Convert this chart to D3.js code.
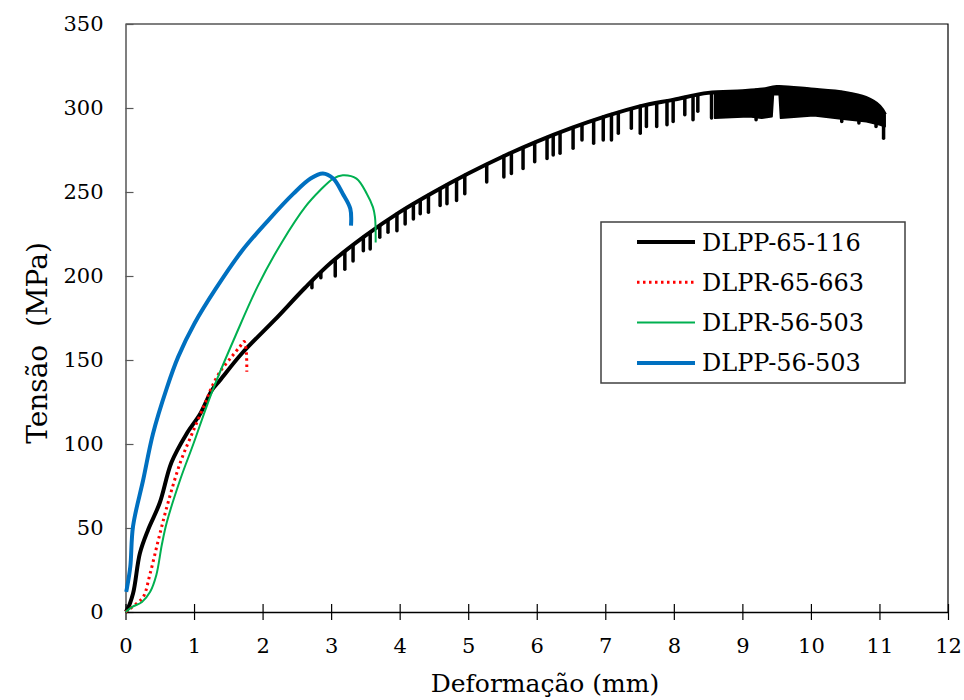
<!DOCTYPE html>
<html>
<head>
<meta charset="utf-8">
<script src="https://cdn.jsdelivr.net/npm/d3@7"></script>
<style>
  body { margin: 0; background: #fff; }
  svg text { font-family: "DejaVu Serif", serif; fill: #000; }
</style>
</head>
<body>
<script>
// values: [deformação mm, tensão MPa]
const dlpp65 = [[0,0],[0.02,1],[0.11,11],[0.21,35],[0.33,49],[0.5,65],[0.67,89],[0.89,106],[1.09,118],
  [1.26,132],[1.38,138],[1.7,154],[2.18,174],[2.62,193],[3.0,208],[3.5,224],[4.0,238],[4.5,250],
  [5.0,261],[5.5,271],[6.0,280],[6.5,288],[7.0,295],[7.5,301],[8.0,305],[8.5,309],[9.0,310],
  [9.3,311],[9.5,312.5],[10.0,311],[10.5,309],[10.8,306],[11.0,301],[11.08,296]];
// downward drops on the DLPP-65-116 curve: [x, lowest stress]
const dlpp65Drops = [[2.72,193],[2.85,199],[3.06,200],[3.2,204],[3.32,209],[3.47,215],[3.57,216],[3.71,223],[3.83,226],
  [3.96,227],[4.08,231],[4.2,234],[4.3,237],[4.42,238],[4.59,242],[4.69,243],[4.83,245],[4.95,249],
  [5.27,256],[5.52,259],[5.63,261],[5.8,264],[5.97,268],[6.15,270],[6.24,272],[6.34,273],[6.53,276],
  [6.66,281],[6.83,279],[6.97,281],[7.09,281],[7.19,285],[7.38,288],[7.51,285],[7.6,289],[7.75,289],
  [7.9,290],[7.99,292],[8.16,296],[8.28,293],[8.35,298],[8.55,294],[9.2,293],[10.45,292],[10.7,291],
  [10.95,289],[11.06,282]];
// dense oscillation band at the end: [x, top, bottom]
const dlpp65Band = [[8.6,309.5,294],[8.84,309.7,294.5],[9.1,310,295],[9.28,311.2,294],
  [9.43,311.7,295],[9.45,312,308],[9.54,312.6,308],[9.56,312.6,294],[10.04,310.7,295.5],
  [10.47,309.2,293.5],[10.81,305.5,292],[11.01,300.5,290],[11.08,296,289]];
const dlpr65 = [[0,0],[0.16,5],[0.26,9],[0.36,23],[0.48,43],[0.62,65],[0.8,89],[0.99,108],[1.18,126],
  [1.26,134],[1.38,143],[1.55,152],[1.67,158],[1.73,161],[1.76,156],[1.77,143]];
const dlpr56 = [[0,0],[0.1,3],[0.24,6],[0.36,12],[0.45,22],[0.53,40],[0.6,53],[0.8,79],[0.99,100],
  [1.18,122],[1.33,138],[1.6,164],[1.93,194],[2.28,220],[2.62,241],[2.84,251],[3.03,258],[3.17,260],
  [3.37,258],[3.52,249],[3.61,241],[3.64,235],[3.65,220]];
const dlpp56 = [[0.01,12],[0.02,14],[0.07,27],[0.11,51],[0.26,79],[0.4,106],[0.6,133],[0.77,152],
  [1.01,172],[1.31,192],[1.7,215],[2.08,233],[2.45,249],[2.7,258],[2.88,261],[3.03,258],
  [3.17,249],[3.28,240],[3.29,230]];

const seriesNames = ["DLPP-65-116", "DLPR-65-663", "DLPR-56-503", "DLPP-56-503"];
const xTicks = d3.range(0, 13, 1);
const yTicks = d3.range(0, 351, 50);

const width = 964, height = 700;
const serif = '"DejaVu Serif", serif';
const svg = d3.select("body").append("svg").attr("width", width).attr("height", height);

const x = d3.scaleLinear().domain([0, 12]).range([125.5, 948]);
const y = d3.scaleLinear().domain([0, 350]).range([612, 24]);

// frame top and right
svg.append("path")
  .attr("d", `M${x(0)},${y(350)}H${x(12)}V${y(0)}`)
  .attr("fill", "none").attr("stroke", "#000").attr("stroke-width", 1.2);

const yAxis = svg.append("g")
  .attr("transform", `translate(${x(0)},0)`)
  .call(d3.axisLeft(y).tickValues(yTicks).tickSize(-8).tickSizeOuter(0).tickPadding(22));
yAxis.attr("font-family", serif);
yAxis.select(".domain").attr("stroke", "#7f7f7f").attr("stroke-width", 2);
yAxis.selectAll(".tick line").attr("stroke", "#595959").attr("stroke-width", 1.2);
yAxis.selectAll(".tick text").style("font-size", "21px").style("font-family", serif).attr("fill", "#000");

const xAxis = svg.append("g")
  .attr("transform", `translate(0,${y(0)})`)
  .call(d3.axisBottom(x).tickValues(xTicks).tickSize(8).tickSizeOuter(0).tickPadding(18));
xAxis.attr("font-family", serif);
xAxis.select(".domain").attr("stroke", "#000").attr("stroke-width", 1.5);
xAxis.selectAll(".tick line").attr("y1", -8).attr("y2", 8).attr("stroke", "#000").attr("stroke-width", 1.2);
xAxis.selectAll(".tick text").style("font-size", "21px").style("font-family", serif).attr("fill", "#000");

const line = d3.line().x(d => x(d[0])).y(d => y(d[1])).curve(d3.curveCatmullRom.alpha(0.5));

// curve value at a given x, for the drop lines
const bis = d3.bisector(d => d[0]).left;
function stressAt(data, xv) {
  const i = Math.max(1, Math.min(data.length - 1, bis(data, xv)));
  const a = data[i - 1], b = data[i];
  const t = (xv - a[0]) / (b[0] - a[0]);
  return a[1] + t * (b[1] - a[1]);
}

// DLPP-65-116
svg.append("path")
  .datum(dlpp65Band)
  .attr("d", d3.area().x(d => x(d[0])).y0(d => y(d[2])).y1(d => y(d[1])))
  .attr("fill", "#000").attr("stroke", "#000").attr("stroke-width", 2).attr("stroke-linejoin", "round");
svg.append("g").selectAll("line")
  .data(dlpp65Drops)
  .join("line")
  .attr("x1", d => x(d[0])).attr("x2", d => x(d[0]))
  .attr("y1", d => y(stressAt(dlpp65, d[0]))).attr("y2", d => y(d[1]))
  .attr("stroke", "#000").attr("stroke-width", 3.5).attr("stroke-linecap", "round");
svg.append("path")
  .datum(dlpp65)
  .attr("d", line)
  .attr("fill", "none").attr("stroke", "#000").attr("stroke-width", 4).attr("stroke-linejoin", "round");

// DLPR-65-663
svg.append("path")
  .datum(dlpr65)
  .attr("d", line)
  .attr("fill", "none").attr("stroke", "#ff0000").attr("stroke-width", 3).attr("stroke-dasharray", "2.5 3.5");

// DLPR-56-503
svg.append("path")
  .datum(dlpr56)
  .attr("d", line)
  .attr("fill", "none").attr("stroke", "#00b050").attr("stroke-width", 2).attr("stroke-linejoin", "round");

// DLPP-56-503
svg.append("path")
  .datum(dlpp56)
  .attr("d", line)
  .attr("fill", "none").attr("stroke", "#0070c0").attr("stroke-width", 4).attr("stroke-linejoin", "round");

// legend
const legend = svg.append("g").attr("transform", "translate(601,222)");
legend.append("rect")
  .attr("width", 304).attr("height", 161)
  .attr("fill", "#fff").attr("stroke", "#404040").attr("stroke-width", 1.5);
const styles = [
  {stroke: "#000", w: 4, dash: null},
  {stroke: "#ff0000", w: 3, dash: "2.5 3.5"},
  {stroke: "#00b050", w: 2, dash: null},
  {stroke: "#0070c0", w: 4, dash: null}
];
const item = legend.selectAll("g.item")
  .data(seriesNames)
  .join("g")
  .attr("class", "item")
  .attr("transform", (d, i) => `translate(0,${20 + i * 40.3})`);
item.append("line")
  .attr("x1", 36).attr("x2", 94)
  .attr("stroke", (d, i) => styles[i].stroke)
  .attr("stroke-width", (d, i) => styles[i].w)
  .attr("stroke-dasharray", (d, i) => styles[i].dash);
item.append("text")
  .attr("x", 101).attr("y", 8.5)
  .style("font-size", "24px").style("font-family", serif)
  .text(d => d);

// axis titles
svg.append("text")
  .attr("x", 545).attr("y", 692)
  .attr("text-anchor", "middle")
  .style("font-size", "25px").style("font-family", serif)
  .text("Deformação (mm)");
svg.append("text")
  .attr("transform", "translate(47,343) rotate(-90)")
  .attr("text-anchor", "middle")
  .style("font-size", "28px").style("font-family", serif)
  .text("Tensão\u00a0 (MPa)");
</script>
</body>
</html>
